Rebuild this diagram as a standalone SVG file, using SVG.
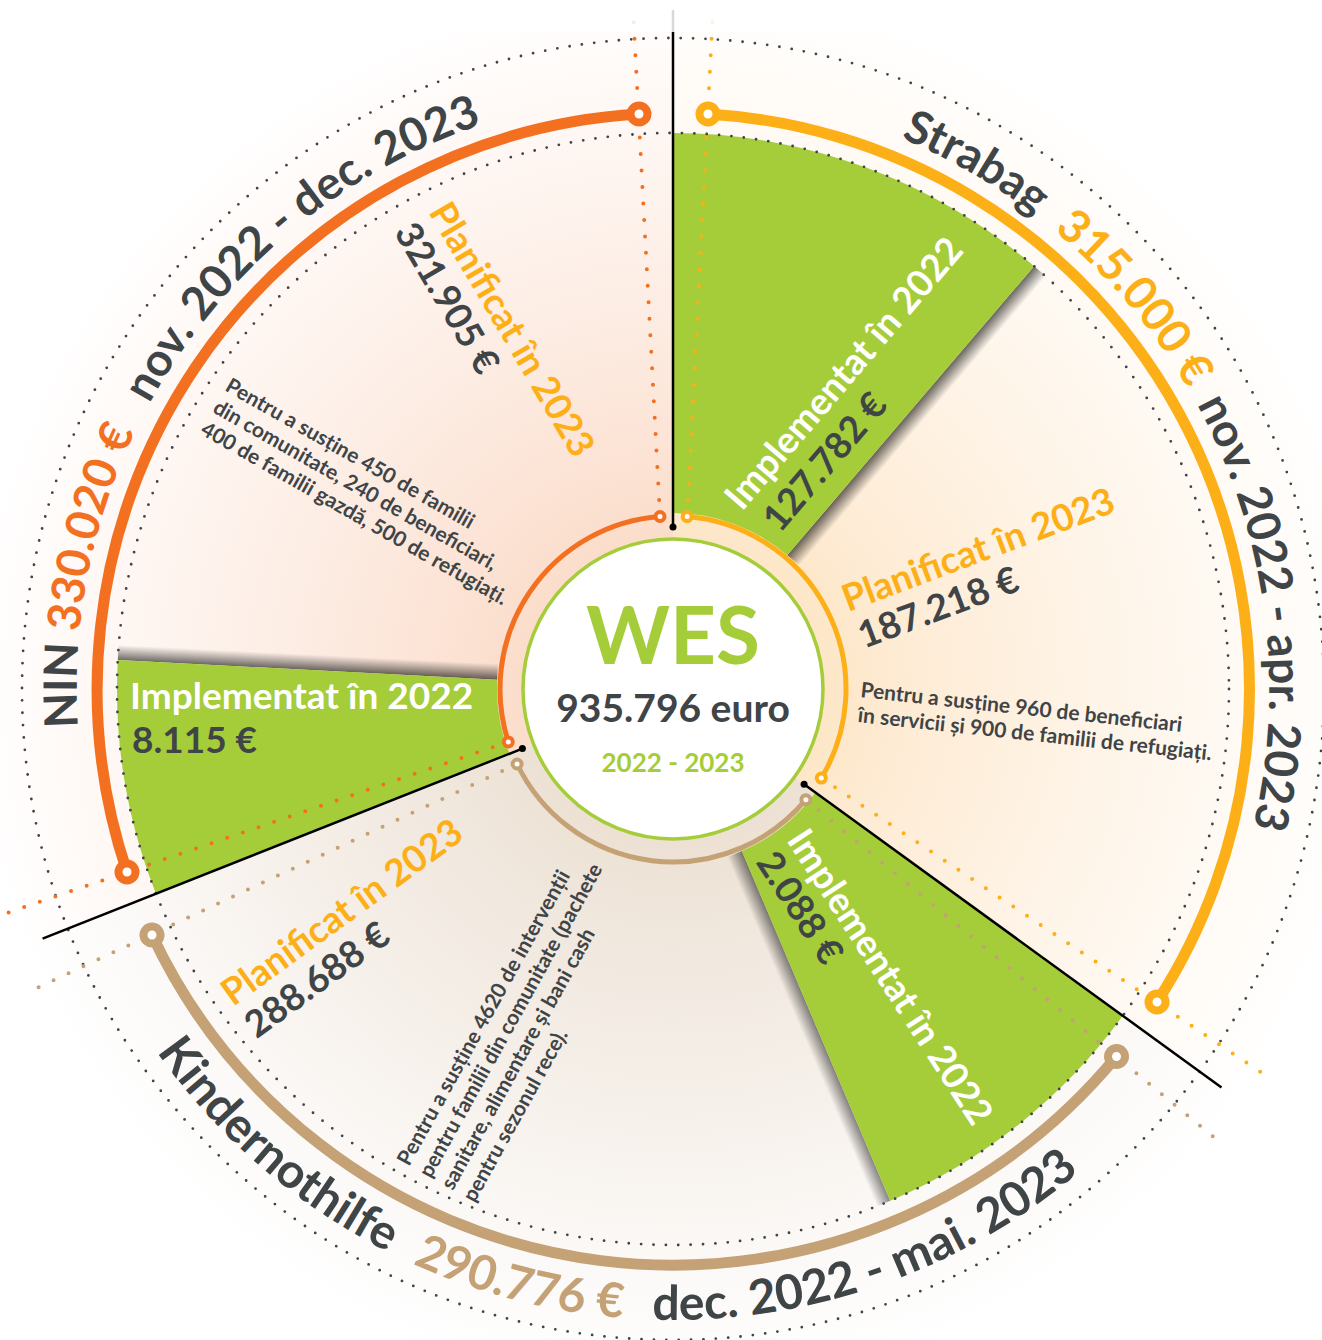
<svg xmlns="http://www.w3.org/2000/svg" width="1322" height="1340" viewBox="0 0 1322 1340">
<defs>
<style>
text{font-family:Lato,'Open Sans','Liberation Sans',sans-serif;}
.b{font-weight:700}
.m{font-weight:700}
.dk{fill:#3F4447}
.wh{fill:#FFFFFF}
.yl{fill:#FCAF17}
.or{fill:#F37021}
.tn{fill:#C4A276}
.gr{fill:#A5CC39}
.arc{font-size:46px}
.arc2{font-size:48px}
.big{font-size:37px;font-weight:700}
.desc{font-size:21px;font-weight:700;fill:#3F4447}
.dotc{fill:none;stroke:#3F4447;stroke-width:2.8;stroke-linecap:round;stroke-dasharray:0 12.4}
.rad{fill:none;stroke-width:4;stroke-linecap:round;stroke-dasharray:0 16.5}
.bigarc{fill:none;stroke-width:11;stroke-linecap:round}
.ring{fill:none;stroke-width:5}
.endc{fill:#FFFFFF;stroke-width:8}
.ends{fill:#FFFFFF;stroke-width:4}
.blk{stroke:#000;stroke-width:2.5;fill:none}
.green{fill:#A5CC39}
</style>
<radialGradient id="gNin" gradientUnits="userSpaceOnUse" cx="673" cy="689" r="700">
<stop offset="0.2" stop-color="#FBDCC9"/><stop offset="0.35" stop-color="#FCE4D6"/><stop offset="0.6" stop-color="#FDEFE7"/><stop offset="0.85" stop-color="#FFF9F6"/><stop offset="1" stop-color="#FFFFFF"/>
</radialGradient>
<radialGradient id="gStr" gradientUnits="userSpaceOnUse" cx="673" cy="689" r="700">
<stop offset="0.2" stop-color="#FDE6C6"/><stop offset="0.35" stop-color="#FEECD6"/><stop offset="0.6" stop-color="#FEF4E7"/><stop offset="0.85" stop-color="#FFFBF6"/><stop offset="1" stop-color="#FFFFFF"/>
</radialGradient>
<radialGradient id="gKin" gradientUnits="userSpaceOnUse" cx="673" cy="689" r="700">
<stop offset="0.2" stop-color="#ECE0D2"/><stop offset="0.35" stop-color="#F0E7DD"/><stop offset="0.6" stop-color="#F6F0EA"/><stop offset="0.85" stop-color="#FCFAF8"/><stop offset="1" stop-color="#FFFFFF"/>
</radialGradient>
<linearGradient id="shS" gradientUnits="userSpaceOnUse" x1="787.3" y1="555.2" x2="799.5" y2="565.6">
<stop offset="0" stop-color="#000" stop-opacity="0.6"/><stop offset="1" stop-color="#000" stop-opacity="0"/>
</linearGradient>
<linearGradient id="shN" gradientUnits="userSpaceOnUse" x1="497.2" y1="679.8" x2="498" y2="663.8">
<stop offset="0" stop-color="#000" stop-opacity="0.6"/><stop offset="1" stop-color="#000" stop-opacity="0"/>
</linearGradient>
<linearGradient id="shK" gradientUnits="userSpaceOnUse" x1="741.8" y1="851" x2="727.1" y2="857.3">
<stop offset="0" stop-color="#000" stop-opacity="0.5"/><stop offset="1" stop-color="#000" stop-opacity="0"/>
</linearGradient>
<path id="cw" d="M673,1285 A596,596 0 1 1 673,93 A596,596 0 1 1 673,1285"/>
<path id="ccw" d="M42,689 A631,631 0 1 0 1304,689 A631,631 0 1 0 42,689"/>
</defs>

<rect x="0" y="0" width="1322" height="1340" fill="#FFFFFF"/>

<g id="backgrounds">
<path d="M673,689 L22.1,946.7 A700,700 0 0 1 673,-11 Z" fill="url(#gNin)"/>
<path d="M673,689 L673,-11 A700,700 0 0 1 1239.3,1100.5 Z" fill="url(#gStr)"/>
<path d="M673,689 L1239.3,1100.5 A700,700 0 0 1 22.1,946.7 Z" fill="url(#gKin)"/>
</g>

<g id="shadows">
<polygon points="787.3,555.2 1034.1,266.2 1046.3,276.6 799.5,565.6" fill="url(#shS)"/>
<polygon points="497.2,679.8 117.8,659.9 118.6,643.9 498,663.8" fill="url(#shN)"/>
<polygon points="741.8,851 890.2,1200.8 875.5,1207.1 727.1,857.3" fill="url(#shK)"/>
</g>

<g id="wedges">
<path class="green" d="M673,133 A556,556 0 0 1 1034.1,266.2 L787.3,555.2 A176,176 0 0 0 673,513 Z"/>
<path class="green" d="M156,893.7 A556,556 0 0 1 117.8,659.9 L497.2,679.8 A176,176 0 0 0 509.4,753.8 Z"/>
<path class="green" d="M1122.8,1015.8 A556,556 0 0 1 890.2,1200.8 L741.8,851 A176,176 0 0 0 815.4,792.5 Z"/>
</g>

<g id="dotted-circles">
<circle class="dotc" cx="673" cy="689" r="651"/>
<circle class="dotc" cx="673" cy="689" r="556"/>
</g>

<g id="connectors">
<path class="rad" stroke="#F37021" d="M660,516.5 L633,10"/>
<path class="rad" stroke="#F37021" d="M508.3,741.9 L8,912.6"/>
<path class="rad" stroke="#FCAF17" d="M687.2,516.6 L713,10"/>
<path class="rad" stroke="#FCAF17" d="M821.3,778.1 L1268,1077"/>
<path class="rad" stroke="#C4A276" d="M517.1,764 L37,988"/>
<path class="rad" stroke="#C4A276" d="M805.9,799.7 L1222,1144"/>
<line class="blk" x1="673" y1="527" x2="673" y2="10"/>
<line class="blk" x1="522.4" y1="748.6" x2="42.6" y2="938.6"/>
<line class="blk" x1="804.1" y1="784.2" x2="1221.5" y2="1087.5"/>
<circle cx="673" cy="527" r="3.5" fill="#000"/>
<circle cx="522.4" cy="748.6" r="3.5" fill="#000"/>
<circle cx="804.1" cy="784.2" r="3.5" fill="#000"/>
</g>

<g id="nin">
<path class="bigarc" stroke="#F37021" d="M127,872 A576,576 0 0 1 639,114"/>
<circle class="endc" stroke="#F37021" cx="127" cy="872" r="8.5"/>
<circle class="endc" stroke="#F37021" cx="639" cy="114" r="8.5"/>
<path class="ring" stroke="#F37021" d="M508.3,741.9 A173,173 0 0 1 660,516.5"/>
<circle class="ends" stroke="#F37021" cx="508.3" cy="741.9" r="4.5"/>
<circle class="ends" stroke="#F37021" cx="660" cy="516.5" r="4.5"/>
<text class="arc b dk"><textPath href="#cw" startOffset="897.7">NIN</textPath></text>
<text class="arc m or"><textPath href="#cw" startOffset="993.4">330.020 €</textPath></text>
<text class="arc b dk"><textPath href="#cw" startOffset="1233.7">nov. 2022 - dec. 2023</textPath></text>
<text class="big wh" font-size="36" x="130" y="709">Implementat în 2022</text>
<text class="big dk" font-size="36" x="132" y="753">8.115 €</text>
<text class="big" font-size="38" transform="translate(428,212) rotate(59.5)"><tspan class="yl" x="0" y="0">Planificat în 2023</tspan><tspan class="dk" x="0" y="40">321.905 €</tspan></text>
<text class="desc" transform="translate(224,390) rotate(29.6)"><tspan x="0" y="0">Pentru a susține 450 de familii</tspan><tspan x="0" y="25">din comunitate, 240 de beneficiari,</tspan><tspan x="0" y="50">400 de familii gazdă, 500 de refugiați.</tspan></text>
</g>

<g id="strabag">
<path class="bigarc" stroke="#FCAF17" d="M708,114 A576,576 0 0 1 1157,1002"/>
<circle class="endc" stroke="#FCAF17" cx="708" cy="114" r="8.5"/>
<circle class="endc" stroke="#FCAF17" cx="1157" cy="1002" r="8.5"/>
<path class="ring" stroke="#FCAF17" d="M687.2,516.6 A173,173 0 0 1 821.3,778.1"/>
<circle class="ends" stroke="#FCAF17" cx="687.2" cy="516.6" r="4.5"/>
<circle class="ends" stroke="#FCAF17" cx="821.3" cy="778.1" r="4.5"/>
<text class="arc b dk"><textPath href="#cw" startOffset="2106.4">Strabag</textPath></text>
<text class="arc m yl"><textPath href="#cw" startOffset="2285.4">315.000 €</textPath></text>
<text class="arc b dk"><textPath href="#cw" startOffset="2512.1">nov. 2022 - apr. 2023</textPath></text>
<text class="big" transform="translate(742,512) rotate(-49.5)"><tspan class="wh" x="0" y="0">Implementat în 2022</tspan><tspan class="dk" x="8" y="43">127.782 €</tspan></text>
<text class="big" font-size="38" transform="translate(848,612) rotate(-20.5)"><tspan class="yl" x="0" y="0">Planificat în 2023</tspan><tspan class="dk" x="2" y="40">187.218 €</tspan></text>
<text class="desc" transform="translate(860,697) rotate(6.2)"><tspan x="0" y="0">Pentru a susține 960 de beneficiari</tspan><tspan x="0" y="25">în servicii și 900 de familii de refugiați.</tspan></text>
</g>

<g id="kindernothilfe">
<path class="bigarc" stroke="#C4A276" d="M1116.5,1056.5 A576,576 0 0 1 152,935"/>
<circle class="endc" stroke="#C4A276" cx="1116.5" cy="1056.5" r="8.5"/>
<circle class="endc" stroke="#C4A276" cx="152" cy="935" r="8.5"/>
<path class="ring" stroke="#C4A276" stroke-width="6" d="M805.9,799.7 A173,173 0 0 1 517.1,764"/>
<circle class="ends" stroke="#C4A276" cx="805.9" cy="799.7" r="4.5"/>
<circle class="ends" stroke="#C4A276" cx="517.1" cy="764" r="4.5"/>
<text class="arc2 b dk"><textPath href="#ccw" startOffset="386.6">Kindernothilfe</textPath></text>
<text class="arc2 m tn"><textPath href="#ccw" startOffset="722.5">290.776 €</textPath></text>
<text class="arc2 b dk"><textPath href="#ccw" startOffset="970.2">dec. 2022 - mai. 2023</textPath></text>
<text class="big" transform="translate(786,840) rotate(57)"><tspan class="wh" x="0" y="0">Implementat în 2022</tspan><tspan class="dk" x="2" y="38">2.088 €</tspan></text>
<text class="big" font-size="38" transform="translate(233,1007) rotate(-36)"><tspan class="yl" x="0" y="0">Planificat în 2023</tspan><tspan class="dk" x="0" y="40">288.688 €</tspan></text>
<text class="desc" transform="translate(409,1167) rotate(-61)"><tspan x="0" y="0">Pentru a susține 4620 de intervenții</tspan><tspan x="0" y="25">pentru familii din comunitate (pachete</tspan><tspan x="0" y="50">sanitare, alimentare și bani cash</tspan><tspan x="0" y="75">pentru sezonul rece).</tspan></text>
</g>

<g id="wes">
<circle cx="673" cy="689" r="150" fill="#FFFFFF" stroke="#A5CC39" stroke-width="3.5"/>
<text x="673" y="664" text-anchor="middle" class="b gr" font-size="80">WES</text>
<text x="673" y="722" text-anchor="middle" class="b dk" font-size="39">935.796 euro</text>
<text x="673" y="772" text-anchor="middle" class="b gr" font-size="26">2022 - 2023</text>
</g>

<rect x="0" y="0" width="1322" height="32" fill="#FFFFFF" fill-opacity="0.85"/>
</svg>
